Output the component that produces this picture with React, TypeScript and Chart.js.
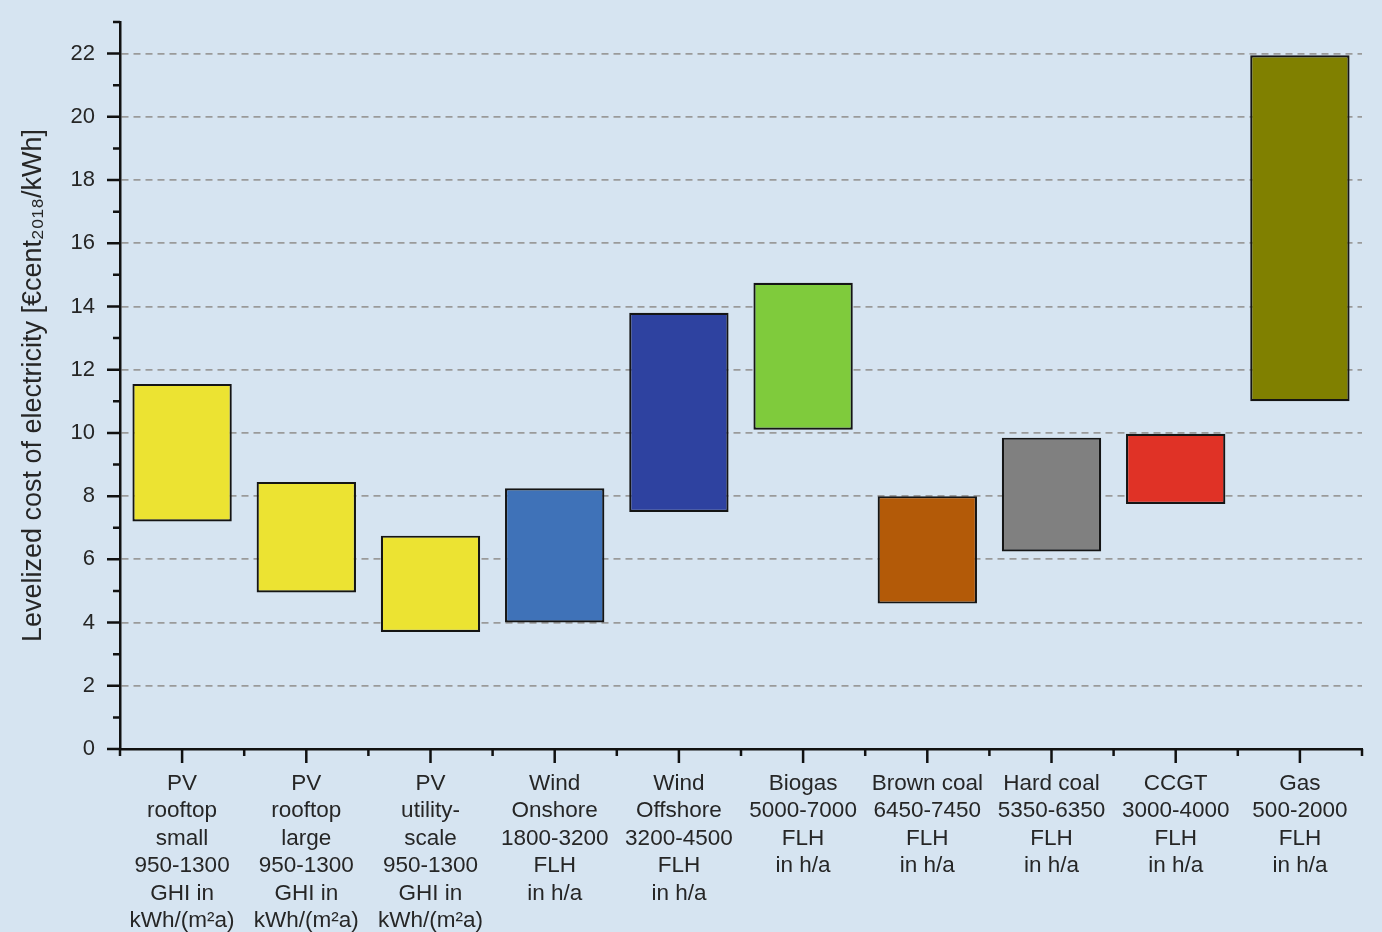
import React, { useEffect, useRef } from "react";
import { Chart, registerables } from "chart.js";

Chart.register(...registerables);

const categories: string[][] = [
  ["PV", "rooftop", "small", "950-1300", "GHI in", "kWh/(m²a)"],
  ["PV", "rooftop", "large", "950-1300", "GHI in", "kWh/(m²a)"],
  ["PV", "utility-", "scale", "950-1300", "GHI in", "kWh/(m²a)"],
  ["Wind", "Onshore", "1800-3200", "FLH", "in h/a"],
  ["Wind", "Offshore", "3200-4500", "FLH", "in h/a"],
  ["Biogas", "5000-7000", "FLH", "in h/a"],
  ["Brown coal", "6450-7450", "FLH", "in h/a"],
  ["Hard coal", "5350-6350", "FLH", "in h/a"],
  ["CCGT", "3000-4000", "FLH", "in h/a"],
  ["Gas", "500-2000", "FLH", "in h/a"],
];

const lowValues: number[] = [7.2, 4.95, 3.7, 4.0, 7.5, 10.1, 4.6, 6.25, 7.75, 11.0];
const highValues: number[] = [11.55, 8.45, 6.75, 8.25, 13.8, 14.75, 8.0, 9.85, 9.97, 21.95];

const barColors: string[] = [
  "#ece332",
  "#ece332",
  "#ece332",
  "#3f72b8",
  "#2e42a0",
  "#7fcb3c",
  "#b35a08",
  "#808080",
  "#e03226",
  "#808000",
];

const yTicks: number[] = [0, 2, 4, 6, 8, 10, 12, 14, 16, 18, 20, 22];
const yMin = 0;
const yMax = 23;

const FONT = "'Liberation Sans', Arial, sans-serif";

const tickMarks = {
  id: "tickMarks",
  afterDraw(chart: any) {
    const ctx = chart.ctx as CanvasRenderingContext2D;
    const area = chart.chartArea;
    const ys = chart.scales.y;
    const xs = chart.scales.x;
    ctx.save();
    ctx.strokeStyle = "#111";
    ctx.lineWidth = 2.5;
    ctx.beginPath();
    for (let v = yMin; v <= yMax; v++) {
      const py = ys.getPixelForValue(v);
      const len = v % 2 === 0 ? 13 : 7;
      ctx.moveTo(area.left, py);
      ctx.lineTo(area.left - len, py);
    }
    const n = categories.length;
    for (let i = 0; i < n; i++) {
      const px = xs.getPixelForValue(i);
      ctx.moveTo(px, area.bottom);
      ctx.lineTo(px, area.bottom + 14);
    }
    for (let i = 0; i <= n; i++) {
      const px = xs.getPixelForValue(i - 0.5);
      ctx.moveTo(px, area.bottom);
      ctx.lineTo(px, area.bottom + 7);
    }
    ctx.stroke();
    ctx.restore();
  },
};

export default function App() {
  const canvasRef = useRef<HTMLCanvasElement | null>(null);

  useEffect(() => {
    if (!canvasRef.current) return;
    const data = lowValues.map((lo, i) => [lo, highValues[i]]);
    const chart = new Chart(canvasRef.current, {
      type: "bar",
      data: {
        labels: categories,
        datasets: [
          {
            data: data as any,
            backgroundColor: barColors,
            borderColor: "#151515",
            borderWidth: 2.2,
            borderSkipped: false,
            barPercentage: 0.8,
            categoryPercentage: 1,
          },
        ],
      },
      options: {
        animation: false,
        responsive: true,
        maintainAspectRatio: false,
        layout: { padding: { left: 14, right: 20, top: 22, bottom: 0 } },
        plugins: {
          legend: { display: false },
          tooltip: { enabled: false },
        },
        scales: {
          x: {
            offset: true,
            grid: { display: false, drawTicks: false },
            border: { display: true, color: "#111", width: 2.5 },
            ticks: {
              color: "#262626",
              font: { family: FONT, size: 22.5, lineHeight: 1.22 },
              padding: 21,
              maxRotation: 0,
              autoSkip: false,
            },
            afterFit: (scale: any) => {
              scale.height = 183;
              scale.paddingLeft = 0;
              scale.paddingRight = 0;
            },
          },
          y: {
            min: yMin,
            max: yMax,
            afterBuildTicks: (scale: any) => {
              const t: any[] = [];
              for (let v = yMin; v <= yMax; v++) t.push({ value: v });
              scale.ticks = t;
            },
            grid: {
              drawTicks: false,
              color: (ctx: any) =>
                ctx.tick && yTicks.includes(ctx.tick.value) && ctx.tick.value !== 0
                  ? "#9a9a9a"
                  : "rgba(0,0,0,0)",
              lineWidth: 1.8,
            },
            border: { display: true, color: "#111", width: 2.5, dash: [7, 5] },
            ticks: {
              color: "#262626",
              font: { family: FONT, size: 22 },
              padding: 25,
              callback: (v: any) => (yTicks.includes(Number(v)) ? String(v) : ""),
            },
            title: {
              display: true,
              text: "Levelized cost of electricity [€cent₂₀₁₈/kWh]",
              color: "#262626",
              font: { family: FONT, size: 27 },
              padding: { top: 3, bottom: 4 },
            },
            afterFit: (scale: any) => {
              scale.width = 106;
              scale.paddingTop = 0;
              scale.paddingBottom = 0;
            },
          },
        },
      },
      plugins: [tickMarks],
    });
    return () => chart.destroy();
  }, []);

  return (
    <div
      style={{
        position: "fixed",
        left: 0,
        top: 0,
        width: 1382,
        height: 932,
        background: "#d6e4f1",
      }}
    >
      <canvas ref={canvasRef} />
    </div>
  );
}
